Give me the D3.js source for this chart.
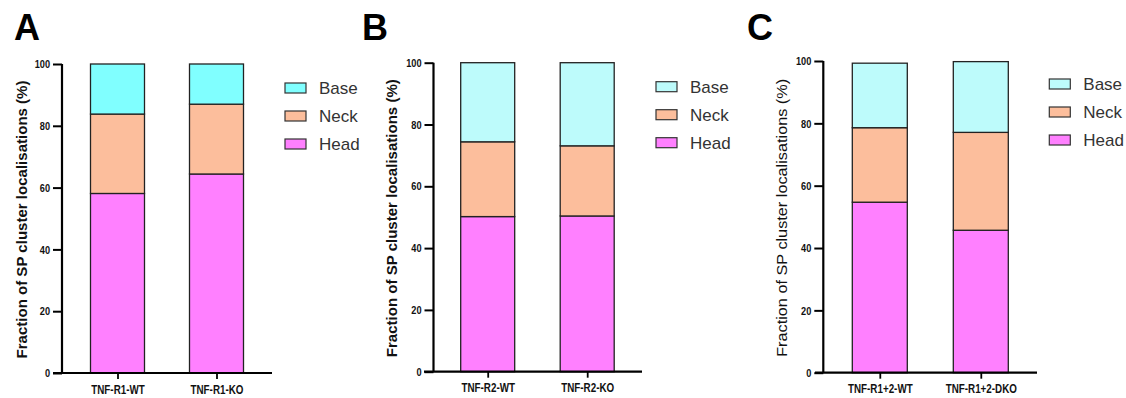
<!DOCTYPE html>
<html>
<head>
<meta charset="utf-8">
<script src="https://cdn.jsdelivr.net/npm/d3@7"></script>
<style>
  body { margin: 0; background: #fff; }
  svg { display: block; }
</style>
</head>
<body>
<div id="chart"></div>
<script>
// data (segment sizes in %)
const categoriesA = ["TNF-R1-WT", "TNF-R1-KO"];
const headA = [58.1, 64.4];
const neckA = [25.7, 22.6];
const baseA = [16.2, 13.0];

const categoriesB = ["TNF-R2-WT", "TNF-R2-KO"];
const headB = [50.2, 50.4];
const neckB = [24.2, 22.7];
const baseB = [25.6, 26.9];

const categoriesC = ["TNF-R1+2-WT", "TNF-R1+2-DKO"];
const headC = [54.7, 45.7];
const neckC = [23.9, 31.4];
const baseC = [20.7, 22.7];

const segments = ["Head", "Neck", "Base"];
const legendOrder = ["Base", "Neck", "Head"];
const yTicks = [0, 20, 40, 60, 80, 100];
const yTitle = "Fraction of SP cluster localisations (%)";

const sans = "'Liberation Sans', Arial, sans-serif";

const svg = d3.select("#chart")
    .append("svg")
    .attr("width", 1126)
    .attr("height", 398);

// panel layout
const panels = [
    { letter: "A", lx: 14, cats: categoriesA, head: headA, neck: neckA, base: baseA,
      ax: 62, top: 64, bot: 373, x0: 53, x1: 272, c0: 117.5, c1: 216.5, bw: 54,
      baseColor: "#80ffff", legX: 285, legY: 83, titleX: 22, titleBold: true },
    { letter: "B", lx: 362, cats: categoriesB, head: headB, neck: neckB, base: baseB,
      ax: 433.5, top: 62.7, bot: 371.7, x0: 424, x1: 642, c0: 487.7, c1: 587.2, bw: 54,
      baseColor: "#bdfbfb", legX: 656, legY: 81.7, titleX: 391.7, titleBold: true },
    { letter: "C", lx: 747, cats: categoriesC, head: headC, neck: neckC, base: baseC,
      ax: 823.3, top: 61, bot: 372.7, x0: 815, x1: 1037, c0: 879.8, c1: 980.8, bw: 55,
      baseColor: "#bdfbfb", legX: 1049.3, legY: 79, titleX: 781.7, titleBold: false }
];

panels.forEach(p => {
    const g = svg.append("g");

    const y = d3.scaleLinear().domain([0, 100]).range([p.bot, p.top]);
    const x = d3.scalePoint().domain(p.cats).range([p.c0, p.c1]);

    const color = d3.scaleOrdinal()
        .domain(segments)
        .range(["#ff80ff", "#fcbe9c", p.baseColor]);

    const rows = p.cats.map((c, i) => ({ cat: c, Head: p.head[i], Neck: p.neck[i], Base: p.base[i] }));
    const stacked = d3.stack().keys(segments)(rows);

    // bars
    g.selectAll(".layer")
        .data(stacked)
        .enter()
        .append("g")
        .attr("fill", d => color(d.key))
        .selectAll("rect")
        .data(d => d)
        .enter()
        .append("rect")
        .attr("x", d => x(d.data.cat) - p.bw / 2)
        .attr("width", p.bw)
        .attr("y", d => y(d[1]))
        .attr("height", d => y(d[0]) - y(d[1]))
        .attr("stroke", "#222")
        .attr("stroke-width", 1.3);

    // y axis
    const yAxis = g.append("g")
        .attr("transform", `translate(${p.ax},0)`)
        .call(d3.axisLeft(y).tickValues(yTicks).tickSize(9).tickPadding(3));
    yAxis.select(".domain").attr("stroke-width", 2.2).attr("d", `M0,${p.top}V${p.bot}`);
    yAxis.selectAll(".tick line").attr("stroke-width", 2);
    // condensed look: squeeze glyphs horizontally, keep right edge at x=-12
    yAxis.selectAll(".tick text")
        .attr("x", -12 / 0.8)
        .attr("transform", "scale(0.8,1)")
        .style("font-family", sans)
        .style("font-weight", "bold")
        .style("font-size", "11.5px")
        .attr("fill", "#111");

    // x axis
    g.append("line")
        .attr("x1", p.x0).attr("x2", p.x1)
        .attr("y1", p.bot).attr("y2", p.bot)
        .attr("stroke", "#000").attr("stroke-width", 2.2);
    const xAxis = g.append("g")
        .attr("transform", `translate(0,${p.bot})`)
        .call(d3.axisBottom(x).tickSize(6).tickPadding(6));
    xAxis.select(".domain").remove();
    xAxis.selectAll(".tick line").attr("stroke-width", 1.8);
    xAxis.selectAll(".tick text")
        .attr("transform", "scale(0.82,1)")
        .style("font-family", sans)
        .style("font-weight", "bold")
        .style("font-size", "12px")
        .attr("fill", "#111");

    // y title
    g.append("text")
        .attr("transform", `translate(${p.titleX + 5},${(p.top + p.bot) / 2 + 1}) rotate(-90)`)
        .attr("text-anchor", "middle")
        .attr("textLength", 278)
        .attr("lengthAdjust", "spacingAndGlyphs")
        .style("font-family", sans)
        .style("font-weight", p.titleBold ? "bold" : "normal")
        .style("font-size", "14.5px")
        .attr("fill", "#111")
        .text(yTitle);

    // panel letter
    g.append("text")
        .attr("x", p.lx)
        .attr("y", 40)
        .style("font-family", sans)
        .style("font-weight", "bold")
        .style("font-size", "36px")
        .attr("fill", "#000")
        .text(p.letter);

    // legend
    const leg = g.selectAll(".leg")
        .data(legendOrder)
        .enter()
        .append("g")
        .attr("transform", (d, i) => `translate(${p.legX},${p.legY + i * 28})`);
    leg.append("rect")
        .attr("width", 21)
        .attr("height", 10)
        .attr("fill", d => color(d))
        .attr("stroke", "#333")
        .attr("stroke-width", 1.2);
    leg.append("text")
        .attr("x", 34)
        .attr("y", 11)
        .style("font-family", sans)
        .style("font-size", "17px")
        .attr("fill", "#333")
        .text(d => d);
});
</script>
</body>
</html>
